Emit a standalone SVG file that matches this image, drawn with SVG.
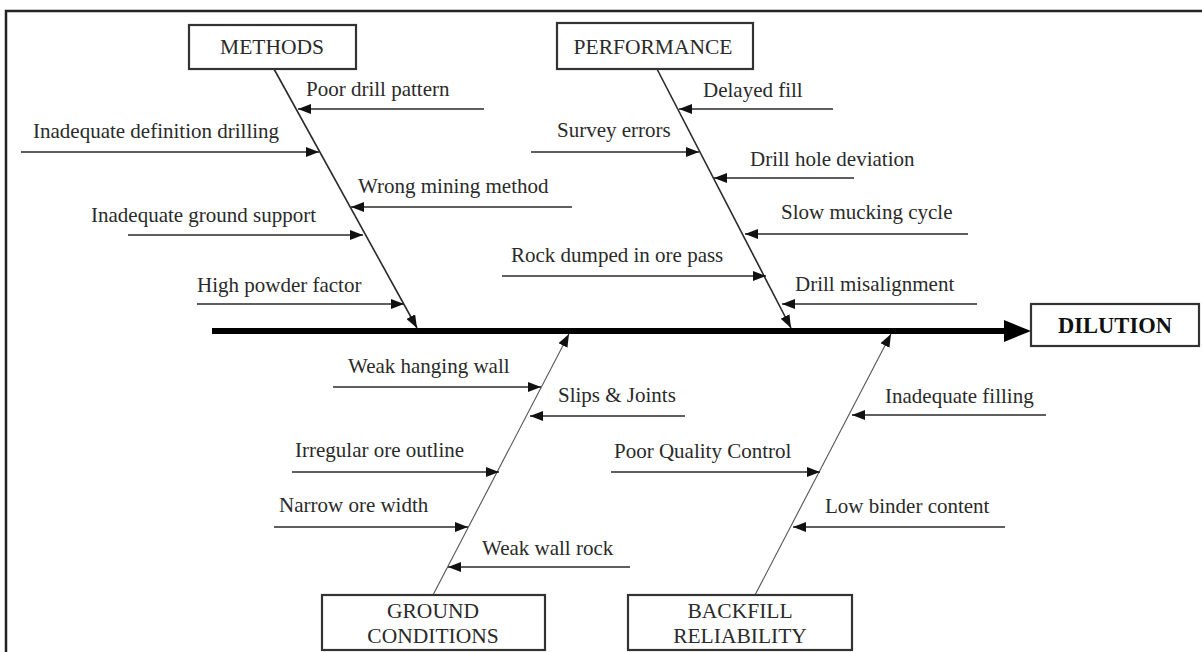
<svg xmlns="http://www.w3.org/2000/svg" width="1202" height="652" viewBox="0 0 1202 652">
<style>
.lbl{font-family:"Liberation Serif","Times New Roman",serif;font-size:21px;fill:#2a2a2a;}
.cat{font-family:"Liberation Serif","Times New Roman",serif;font-size:21.5px;fill:#2a2a2a;text-anchor:middle;}
.eff{font-family:"Liberation Serif","Times New Roman",serif;font-size:22.5px;font-weight:bold;fill:#111;text-anchor:middle;}
.box{fill:#fff;stroke:#333;stroke-width:2.2;}
.arr{stroke:#2a2a2a;stroke-width:1.7;fill:none;marker-end:url(#ah);}
.br{stroke:#2a2a2a;stroke-width:1.6;fill:none;marker-end:url(#ah);}
.brl{stroke:#555;stroke-width:1.1;fill:none;marker-end:url(#ah);}
</style>
<defs>
<marker id="ah" markerUnits="userSpaceOnUse" markerWidth="13" markerHeight="10" refX="13" refY="5" orient="auto">
<path d="M0,0 L13,5 L0,10 z" fill="#111"/>
</marker>
</defs>
<rect width="1202" height="652" fill="#fff"/>
<path d="M6,652 L6,11 L1202,11" fill="none" stroke="#222" stroke-width="2.5"/>

<g id="connectors">
<line x1="212" y1="331" x2="1008" y2="331" stroke="#000" stroke-width="6"/>
<polygon points="1004,320 1031,331 1004,342" fill="#000"/>
<line class="br" x1="274" y1="69" x2="417" y2="328"/>
<line class="br" x1="657" y1="69" x2="791" y2="328"/>
<line class="brl" x1="433" y1="595" x2="569" y2="334"/>
<line class="brl" x1="755" y1="595" x2="891" y2="334"/>

<line class="arr" x1="484" y1="109" x2="298" y2="109"/>
<line class="arr" x1="21" y1="152" x2="319" y2="152"/>
<line class="arr" x1="572" y1="207" x2="351" y2="207"/>
<line class="arr" x1="128" y1="235" x2="363" y2="235"/>
<line class="arr" x1="197" y1="304" x2="404" y2="304"/>

<line class="arr" x1="833" y1="109" x2="679" y2="109"/>
<line class="arr" x1="531" y1="152" x2="699" y2="152"/>
<line class="arr" x1="854" y1="178" x2="714" y2="178"/>
<line class="arr" x1="968" y1="234" x2="745" y2="234"/>
<line class="arr" x1="502" y1="276" x2="766" y2="276"/>
<line class="arr" x1="977" y1="304" x2="782" y2="304"/>

<line class="arr" x1="333" y1="387" x2="541" y2="387"/>
<line class="arr" x1="685" y1="416" x2="530" y2="416"/>
<line class="arr" x1="292" y1="472" x2="499" y2="472"/>
<line class="arr" x1="274" y1="527" x2="468" y2="527"/>
<line class="arr" x1="630" y1="567" x2="448" y2="567"/>

<line class="arr" x1="1046" y1="415" x2="852" y2="415"/>
<line class="arr" x1="611" y1="472" x2="820" y2="472"/>
<line class="arr" x1="1005" y1="527" x2="793" y2="527"/>
</g>

<g id="labels">
<text class="lbl" x="306" y="96">Poor drill pattern</text>
<text class="lbl" x="33" y="138">Inadequate definition drilling</text>
<text class="lbl" x="358" y="193">Wrong mining method</text>
<text class="lbl" x="91" y="222">Inadequate ground support</text>
<text class="lbl" x="197" y="292">High powder factor</text>
<text class="lbl" x="703" y="97">Delayed fill</text>
<text class="lbl" x="557" y="137">Survey errors</text>
<text class="lbl" x="750" y="166">Drill hole deviation</text>
<text class="lbl" x="781" y="219">Slow mucking cycle</text>
<text class="lbl" x="511" y="262">Rock dumped in ore pass</text>
<text class="lbl" x="795" y="291">Drill misalignment</text>
<text class="lbl" x="348" y="373">Weak hanging wall</text>
<text class="lbl" x="558" y="402">Slips &amp; Joints</text>
<text class="lbl" x="295" y="457">Irregular ore outline</text>
<text class="lbl" x="279" y="512">Narrow ore width</text>
<text class="lbl" x="482" y="555">Weak wall rock</text>
<text class="lbl" x="885" y="403">Inadequate filling</text>
<text class="lbl" x="614" y="458">Poor Quality Control</text>
<text class="lbl" x="825" y="513">Low binder content</text>
</g>

<g id="methods">
<rect class="box" x="189" y="25" width="167" height="44"/>
<text class="cat" x="272" y="54">METHODS</text>
</g>
<g id="performance">
<rect class="box" x="557" y="23" width="196" height="46"/>
<text class="cat" x="653" y="54">PERFORMANCE</text>
</g>
<g id="ground-conditions">
<rect class="box" x="322" y="595" width="223" height="55"/>
<text class="cat" x="433" y="618">GROUND</text>
<text class="cat" x="433" y="643">CONDITIONS</text>
</g>
<g id="backfill-reliability">
<rect class="box" x="628" y="595" width="224" height="55"/>
<text class="cat" x="740" y="618">BACKFILL</text>
<text class="cat" x="740" y="643">RELIABILITY</text>
</g>
<g id="dilution">
<rect class="box" x="1031" y="304" width="168" height="42"/>
<text class="eff" x="1115" y="333">DILUTION</text>
</g>
</svg>
